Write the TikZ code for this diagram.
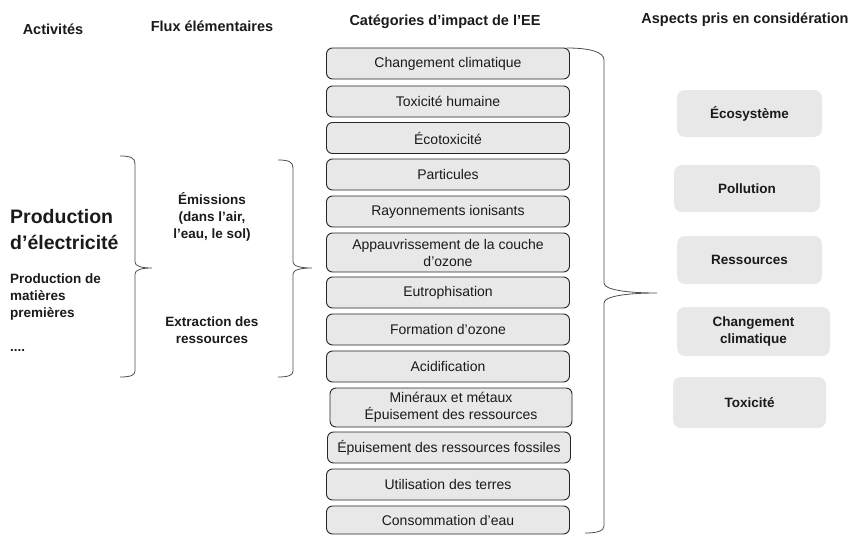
\documentclass[tikz,border=0pt]{standalone}
\usepackage{fontspec}
\setmainfont{Liberation Sans}
\usepackage{tikz}
\usetikzlibrary{positioning}
\usepackage{xcolor}
\definecolor{boxgray}{HTML}{E8E8E8}
\definecolor{inkgray}{HTML}{1A1A1A}
\definecolor{bracegray}{HTML}{4D4D4D}

\begin{document}
\begin{tikzpicture}[x=1pt,y=-1pt,
  every node/.style={text=inkgray, font=\fontsize{13.5}{17}\selectfont, align=center, inner sep=0pt},
  header/.style={font=\fontsize{14.5}{17}\selectfont\bfseries},
  flux/.style={font=\fontsize{13.5}{17}\selectfont\bfseries},
  catbox/.style={draw=black!85, line width=0.9pt, fill=boxgray, rounded corners=6pt, minimum width=243pt, minimum height=31pt, font=\fontsize{14}{17}\selectfont},
  aspectbox/.style={fill=boxgray, rounded corners=8pt, minimum width=146pt, minimum height=48pt, font=\fontsize{13.5}{17}\selectfont\bfseries},
  bracket/.style={draw=bracegray, line width=0.8pt}
]
\useasboundingbox (0,0) rectangle (851,535);

% column titles
\node [header] (hact) at (53,29) {Activités};
\node [header] (hflux) at (212,26) {Flux élémentaires};
\node [header] (hcat) at (445,22) {Catégories d’impact de l’EE};
\node [header] (hasp) at (745,20) {Aspects pris en considération};

% activities
\node [anchor=west, align=left, font=\fontsize{19.5}{26}\selectfont\bfseries] (prod) at (10,230) {Production\\d’électricité};
\node [anchor=west, align=left, flux] (mat) at (10,297) {Production de\\matières\\premières};
\node [anchor=west, flux] (dots) at (10,350) {....};

% elementary flows
\node [flux] (emis) at (212,217) {Émissions\\(dans l’air,\\l’eau, le sol)};
\node [flux] (extr) at (212,330) {Extraction des\\ressources};

% impact categories
\node [catbox] (clim) at (448,63.5) {Changement climatique};
\node [catbox] (toxh) at (448,101.5) {Toxicité humaine};
\node [catbox] (ecotox) at (448,138) {Écotoxicité};
\node [catbox] (part) at (448,174.5) {Particules};
\node [catbox] (rayon) at (448,211.5) {Rayonnements ionisants};
\node [catbox, minimum height=39pt] (ozcouche) at (448,252.5) {Appauvrissement de la couche\\d’ozone};
\node [catbox] (eutro) at (448,292.5) {Eutrophisation};
\node [catbox] (ozform) at (448,329.5) {Formation d’ozone};
\node [catbox] (acid) at (448,366.5) {Acidification};
\node [catbox, minimum height=39pt, minimum width=242pt] (minerals) at (451,407.5) {Minéraux et métaux\\Épuisement des ressources};
\node [catbox] (fossil) at (449,447.5) {Épuisement des ressources fossiles};
\node [catbox] (terres) at (448,484.5) {Utilisation des terres};
\node [catbox, minimum height=28pt] (eau) at (448,520) {Consommation d’eau};

% aspects
\node [aspectbox, minimum width=145pt, minimum height=47pt] (ecosys) at (749.5,113.5) {Écosystème};
\node [aspectbox, minimum height=47pt] (pollu) at (747,188.5) {Pollution};
\node [aspectbox, minimum width=145pt] (ressou) at (749.5,260) {Ressources};
\node [aspectbox, minimum width=153pt, minimum height=49pt] (changc) at (753.5,331.5) {Changement\\climatique};
\node [aspectbox, minimum width=153pt, minimum height=51pt] (toxic) at (749.5,402.5) {Toxicité};

% braces
\draw [bracket] (120,156) .. controls (131,156) and (135,158) .. (135,164) -- (135,262)
  .. controls (135,266) and (141,268) .. (152,268) .. controls (141,268) and (135,270) .. (135,274)
  -- (135,371) .. controls (135,375) and (131,377) .. (120,377);
\draw [bracket] (278,160) .. controls (289,160) and (293,162) .. (293,168) -- (293,262)
  .. controls (293,266) and (300,268) .. (312,268) .. controls (300,268) and (293,270) .. (293,274)
  -- (293,371) .. controls (293,375) and (289,377) .. (278,377);
\draw [bracket] (567,48) .. controls (590,48) and (604,52) .. (604,60) -- (604,283)
  .. controls (604,290) and (628,293) .. (657,293) .. controls (628,293) and (604,296) .. (604,303)
  -- (604,526) .. controls (604,531) and (597,533) .. (585,533);
\end{tikzpicture}
\end{document}
